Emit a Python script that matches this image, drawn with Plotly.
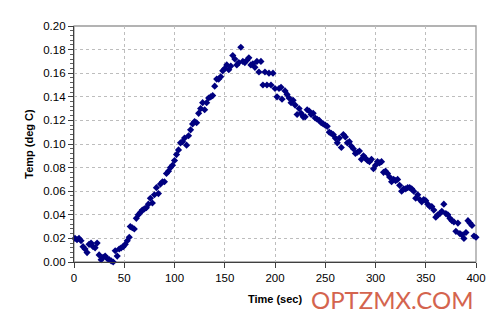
import plotly.graph_objects as go

time_sec = [1, 3, 5, 7, 9, 11, 13, 15, 17, 19, 21, 23, 25, 27, 29, 31, 33, 35, 37, 39,
            41, 43, 45, 47, 49, 51, 53, 55, 56, 58, 60, 62, 64, 66, 68, 70, 72, 74, 76, 78,
            80, 82, 84, 86, 88, 90, 92, 94, 96, 98, 100, 102, 104, 106, 108, 110, 112, 114, 116, 118,
            120, 122, 124, 126, 128, 130, 132, 134, 136, 138, 140, 142, 144, 146, 148, 150, 152, 154, 156, 158,
            160, 162, 164, 166, 168, 170, 172, 174, 176, 178, 180, 182, 184, 186, 188, 190, 192, 194, 196, 198,
            200, 202, 204, 206, 207, 210, 212, 214, 216, 218, 220, 222, 224, 226, 228, 230, 232, 234, 236, 238,
            240, 242, 244, 246, 248, 250, 252, 254, 256, 258, 260, 262, 264, 266, 268, 270, 272, 274, 276, 278,
            280, 282, 284, 286, 288, 290, 292, 294, 296, 298, 300, 302, 304, 306, 308, 310, 312, 314, 316, 318,
            320, 322, 324, 326, 328, 330, 332, 334, 336, 338, 340, 342, 344, 346, 348, 350, 352, 354, 356, 358,
            360, 362, 364, 366, 368, 370, 372, 374, 376, 378, 380, 382, 384, 386, 388, 390, 392, 394, 396, 398, 400]

temp_deg_c = [0.020, 0.019, 0.020, 0.018, 0.013, 0.011, 0.008, 0.015, 0.016, 0.013, 0.012, 0.016, 0.006, 0.002, 0.004, 0.005, 0.003, 0.002, 0.001, 0.000,
              0.0095, 0.005, 0.011, 0.012, 0.013, 0.015, 0.018, 0.021, 0.030, 0.029, 0.028, 0.037, 0.040, 0.042, 0.044, 0.045, 0.046, 0.049, 0.054, 0.050,
              0.057, 0.063, 0.058, 0.066, 0.068, 0.068, 0.075, 0.077, 0.080, 0.082, 0.086, 0.091, 0.095, 0.101, 0.102, 0.105, 0.099, 0.107, 0.112, 0.117,
              0.119, 0.118, 0.126, 0.130, 0.135, 0.129, 0.135, 0.139, 0.140, 0.141, 0.149, 0.155, 0.155, 0.157, 0.162, 0.164, 0.167, 0.163, 0.166, 0.175,
              0.172, 0.167, 0.169, 0.182, 0.170, 0.169, 0.171, 0.173, 0.167, 0.168, 0.165, 0.170, 0.161, 0.170, 0.150, 0.161, 0.150, 0.160, 0.150, 0.160,
              0.147, 0.140, 0.147, 0.148, 0.138, 0.145, 0.142, 0.139, 0.135, 0.137, 0.133, 0.125, 0.130, 0.126, 0.123, 0.123, 0.129, 0.128, 0.125, 0.126,
              0.122, 0.121, 0.120, 0.118, 0.117, 0.116, 0.115, 0.110, 0.109, 0.108, 0.105, 0.101, 0.105, 0.097, 0.108, 0.106, 0.101, 0.102, 0.098, 0.096,
              0.092, 0.093, 0.094, 0.087, 0.090, 0.088, 0.086, 0.085, 0.087, 0.079, 0.082, 0.085, 0.084, 0.085, 0.076, 0.077, 0.075, 0.072, 0.068, 0.070,
              0.069, 0.070, 0.065, 0.060, 0.062, 0.062, 0.063, 0.063, 0.062, 0.060, 0.054, 0.057, 0.053, 0.051, 0.053, 0.052, 0.049, 0.047, 0.047, 0.044,
              0.038, 0.040, 0.041, 0.043, 0.049, 0.041, 0.040, 0.037, 0.035, 0.034, 0.026, 0.033, 0.024, 0.023, 0.020, 0.025, 0.035, 0.033, 0.031, 0.022, 0.021]

x_ticks = [0, 50, 100, 150, 200, 250, 300, 350, 400]
y_ticks = [0.00, 0.02, 0.04, 0.06, 0.08, 0.10, 0.12, 0.14, 0.16, 0.18, 0.20]

FONT = "Liberation Sans, Arial, sans-serif"

fig = go.Figure()
fig.add_trace(go.Scatter(
    x=time_sec, y=temp_deg_c, mode="markers",
    marker=dict(symbol="diamond", size=5.5, color="#000080", line=dict(width=0)),
    cliponaxis=False, showlegend=False,
))

# the page places the figure 8px in from the top-left corner, so the figure is 8px smaller
fig.update_layout(
    width=492, height=321,
    margin=dict(l=66, r=24, t=16, b=67),
    paper_bgcolor="white", plot_bgcolor="white",
    font=dict(family=FONT, size=11, color="black"),
    shapes=[dict(type="rect", xref="paper", yref="paper", x0=0, y0=0, x1=1, y1=1,
                 line=dict(color="#9a9a9a", width=1.3), layer="below")],
    annotations=[dict(text="OPTZMX.COM", xref="paper", yref="paper", x=0.9975, y=-0.16,
                      xanchor="right", yanchor="middle", showarrow=False,
                      font=dict(family="Lato, Open Sans, sans-serif", size=24, color="#d4644e"))],
)

fig.update_xaxes(
    range=[0, 400], tickvals=x_ticks, ticktext=[str(v) for v in x_ticks],
    showline=True, linecolor="#404040", linewidth=1.2,
    ticks="outside", ticklen=5, tickcolor="#404040",
    showgrid=True, gridcolor="#bdbdbd", griddash="dot", gridwidth=1,
    zeroline=False, tickfont=dict(size=11.5),
    title=dict(text="<b>Time (sec)</b>", font=dict(size=11), standoff=12),
)
fig.update_yaxes(
    range=[0, 0.20], tickvals=y_ticks, ticktext=[f"{v:.2f}" for v in y_ticks],
    showline=True, linecolor="#404040", linewidth=1.2,
    ticks="outside", ticklen=5, tickcolor="#404040",
    minor=dict(dtick=0.004, ticks="outside", ticklen=3, tickcolor="#606060", showgrid=False),
    showgrid=True, gridcolor="#bdbdbd", griddash="dot", gridwidth=1,
    zeroline=False, tickfont=dict(size=11.5),
    title=dict(text="<b>Temp (deg C)</b>", font=dict(size=11), standoff=7),
)

fig.write_html("out.html")
